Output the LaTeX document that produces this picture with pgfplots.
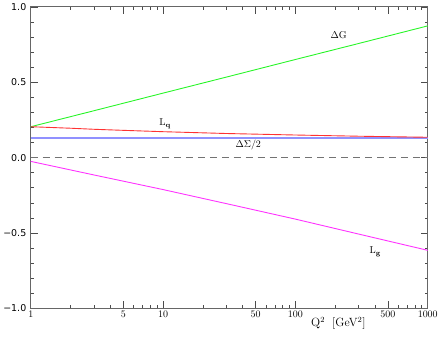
\documentclass[border=0pt]{standalone}
\usepackage{fontspec}
\newfontfamily\ysans{DejaVu Sans}
\usepackage{pgfplots}
\pgfplotsset{compat=1.18}

\definecolor{dgGreen}{RGB}{40,245,40}
\definecolor{lqRed}{RGB}{255,50,50}
\definecolor{dsBlue}{RGB}{145,145,255}
\definecolor{lgMag}{RGB}{255,50,255}

\newcommand{\lab}{\fontsize{10}{11}\selectfont}
\newcommand{\sub}[1]{\raisebox{-0.55ex}{\fontsize{7}{8}\selectfont\bfseries #1}}

\begin{document}
\begin{tikzpicture}
\begin{axis}[
    scale only axis,
    width=399pt, height=303pt,
    xmode=log, xmin=1, xmax=1000,
    ymin=-1, ymax=1,
    xtick={1,5,10,50,100,500,1000},
    xticklabels={1,5,10,50,100,500,1000},
    minor xtick={2,3,4,6,7,8,9,20,30,40,60,70,80,90,200,300,400,600,700,800,900},
    ytick={-1,-0.5,0,0.5,1},
    yticklabels={−1.0,−0.5,0.0,0.5,1.0},
    minor ytick={-0.9,-0.8,-0.7,-0.6,-0.4,-0.3,-0.2,-0.1,0.1,0.2,0.3,0.4,0.6,0.7,0.8,0.9},
    tick align=inside,
    major tick length=7pt, minor tick length=3pt,
    tick style={black!70, line width=0.6pt},
    axis line style={black!60, line width=0.8pt},
    xticklabel style={font=\lab, yshift=1pt},
    yticklabel style={font=\ysans\fontsize{9.5}{10}\selectfont, xshift=-1pt},
    xlabel={Q\textsuperscript{2}\hspace{0.6em}[GeV\textsuperscript{2}]\rule[-16pt]{0pt}{0pt}},
    xlabel style={font=\fontsize{12}{13}\selectfont, at={(axis description cs:0.775,0)}, anchor=north, yshift=-5pt},
    clip=false,
]
% zero line
\addplot[black!55, dash pattern=on 7pt off 5pt, line width=1pt] coordinates {(1,0) (1000,0)};
% Delta Sigma / 2
\addplot[dsBlue, line width=1.6pt] coordinates {(1,0.13) (1000,0.13)};
% Delta G
\addplot[dgGreen, line width=0.9pt] coordinates {
 (1,0.205) (3,0.311) (10,0.428) (30,0.534) (100,0.651) (300,0.757) (1000,0.874)};
% L_q
\addplot[lqRed, line width=0.9pt] coordinates {
 (1,0.205) (2,0.195) (3,0.188) (5,0.181) (10,0.172) (30,0.160) (100,0.150) (300,0.142) (1000,0.135)};
% L_g
\addplot[lgMag, line width=0.9pt] coordinates {
 (1,-0.025) (3,-0.115) (10,-0.212) (30,-0.305) (100,-0.408) (300,-0.507) (1000,-0.615)};

\node[font=\lab] at (axis cs:212,0.815) {$\Delta$G};
\node[font=\lab] at (axis cs:10.3,0.225) {L\sub{q}};
\node[font=\lab] at (axis cs:44,0.083) {$\Delta\Sigma$/2};
\node[font=\lab] at (axis cs:400,-0.625) {L\sub{g}};
\end{axis}
\end{tikzpicture}
\end{document}
